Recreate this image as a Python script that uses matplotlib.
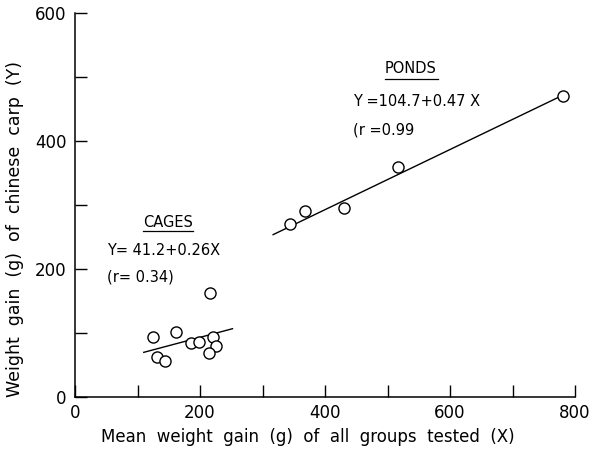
import matplotlib
matplotlib.use("Agg")
import matplotlib.pyplot as plt
import numpy as np

# cages data (X = mean weight gain of all groups, Y = weight gain of chinese carp)
cages_x = [124, 162, 185, 198, 216, 221, 225, 214, 131, 144]
cages_y = [94, 102, 85, 86, 163, 93, 79, 68, 62, 57]
# ponds data
ponds_x = [344, 368, 430, 517, 781]
ponds_y = [270, 291, 296, 360, 471]

# regression lines (a + b*X) and their drawn ranges
cages_fit = (41.2, 0.26)
cages_range = (110, 252)
ponds_fit = (104.7, 0.47)
ponds_range = (317, 781)

x_ticks = [0, 100, 200, 300, 400, 500, 600, 700, 800]
x_labels = ["0", "", "200", "", "400", "", "600", "", "800"]
y_ticks = [0, 100, 200, 300, 400, 500, 600]
y_labels = ["0", "", "200", "", "400", "", "600"]

plt.rcParams["font.family"] = "DejaVu Sans"

fig = plt.figure(figsize=(5.92, 4.51), dpi=100)
ax = fig.add_axes([0.1267, 0.1197, 0.8446, 0.8515])

for fit, rng in [(cages_fit, cages_range), (ponds_fit, ponds_range)]:
    xs = np.array(rng)
    ax.plot(xs, fit[0] + fit[1] * xs, color="black", lw=1.0, zorder=2)

ax.plot(cages_x, cages_y, "o", mfc="white", mec="black", ms=8, mew=1.0, zorder=3)
ax.plot(ponds_x, ponds_y, "o", mfc="white", mec="black", ms=8, mew=1.0, zorder=3)

ax.set_xlim(0, 800)
ax.set_ylim(0, 600)
ax.spines["top"].set_visible(False)
ax.spines["right"].set_visible(False)
ax.spines["left"].set_linewidth(1.1)
ax.spines["bottom"].set_linewidth(1.1)
ax.set_xticks(x_ticks)
ax.set_xticklabels(x_labels)
ax.set_yticks(y_ticks)
ax.set_yticklabels(y_labels)
ax.tick_params(direction="in", length=8.5, width=1.0, labelsize=12)
ax.tick_params(axis="x", pad=5)
ax.tick_params(axis="y", pad=6)

ax.set_xlabel("Mean  weight  gain  (g)  of  all  groups  tested  (X)", fontsize=12)
ax.set_ylabel("Weight  gain  (g)  of  chinese  carp  (Y)", fontsize=12.5)
ax.xaxis.set_label_coords(0.466, -0.104)
ax.xaxis.label.set_va("center")
ax.yaxis.set_label_coords(-0.12, 0.4375)
ax.yaxis.label.set_va("center")

# annotations
ax.text(496, 514, "PONDS", fontsize=10.5, va="center", ha="left")
ax.plot([496, 580], [497, 497], color="black", lw=0.9)
ax.text(445, 462, "Y =104.7+0.47 X", fontsize=10.5, va="center", ha="left")
ax.text(444, 417, "(r =0.99", fontsize=10.5, va="center", ha="left")

ax.text(109, 273, "CAGES", fontsize=10.5, va="center", ha="left")
ax.plot([109, 188], [260, 260], color="black", lw=0.9)
ax.text(51, 229, "Y= 41.2+0.26X", fontsize=10.5, va="center", ha="left")
ax.text(51, 187, "(r= 0.34)", fontsize=10.5, va="center", ha="left")

fig.savefig("out.png", dpi=100)
